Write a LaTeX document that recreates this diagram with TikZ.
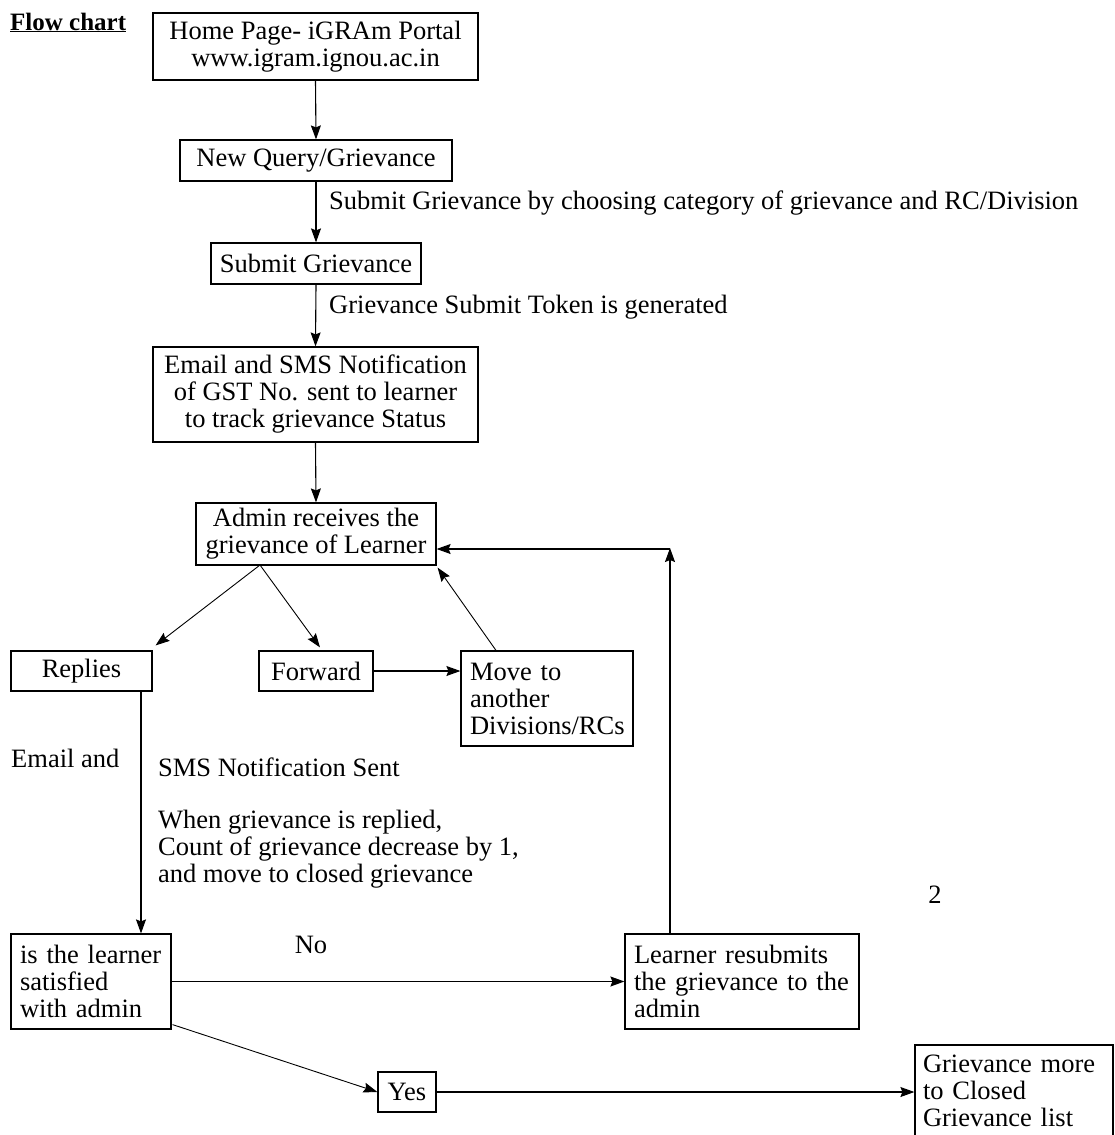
\documentclass[tikz,border=0pt]{standalone}
\usepackage{fontspec}
\setmainfont{Liberation Serif}
\usetikzlibrary{arrows.meta,calc}
\begin{document}
\begin{tikzpicture}[x=1pt,y=-1pt,
  every node/.style={font=\fontsize{26.5}{27}\selectfont},
  box/.style={draw, line width=1.2pt, inner sep=0pt, align=center},
  lbox/.style={draw, line width=1.2pt, inner xsep=9pt, inner ysep=0pt, align=left},
  arr/.style={line width=1.1pt, -{Stealth[length=14pt,width=10pt,inset=2pt]}},
  darr/.style={line width=0.9pt, -{Stealth[length=14pt,width=10pt,inset=2pt]}},
  lab/.style={anchor=west, inner sep=0pt, align=left},
]
\useasboundingbox (0,0) rectangle (1115,1135);
\clip (0,0) rectangle (1115,1135);

% title
\node[inner sep=0pt, anchor=base west, font=\fontsize{25}{27}\selectfont\bfseries] (title) at (10,30) {\underline{Flow chart}};

% boxes
\node[box, minimum width=325pt, minimum height=67pt] (home) at (315.5,46.5) {Home Page- iGRAm Portal\\www.igram.ignou.ac.in};
\node[box, minimum width=272pt, minimum height=41pt] (newq) at (316,160.5) {New Query/Grievance};
\node[box, minimum width=210pt, minimum height=41pt] (subg) at (316,263.5) {Submit Grievance};
\node[box, minimum width=325pt, minimum height=95pt] (email) at (315.5,394.5) {Email and SMS Notification\\of GST No. sent to learner\\to track grievance Status};
\node[box, minimum width=240pt, minimum height=62pt] (admin) at (316,534) {Admin receives the\\grievance of Learner};
\node[box, minimum width=141pt, minimum height=40pt] (replies) at (81.5,671) {Replies};
\node[box, minimum width=114pt, minimum height=40pt] (forward) at (316,671) {Forward};
\node[lbox, text width=154pt, minimum height=95pt] (move) at (547,698.5) {Move to\\another\\Divisions/RCs};
\node[lbox, text width=142pt, minimum height=95pt] (learner) at (91,981.5) {is the learner\\satisfied\\with admin};
\node[lbox, text width=216pt, minimum height=95pt] (resub) at (742,981.5) {Learner resubmits\\the grievance to the\\admin};
\node[box, minimum width=58pt, minimum height=40pt] (yes) at (407,1092) {Yes};
\node[lbox, inner xsep=8pt, text width=182pt, minimum height=92pt] (closed) at (1014,1091) {Grievance more\\to Closed\\Grievance list};

% labels
\node[lab] (lab1) at (329,203) {Submit Grievance by choosing category of grievance and RC/Division};
\node[lab] (lab2) at (329,307) {Grievance Submit Token is generated};
\node[lab] (emailand) at (11,758) {Email and};
\node[lab] (sms) at (158,767) {SMS Notification Sent};
\node[lab, anchor=north west] (when) at (158,810) {When grievance is replied,\\Count of grievance decrease by 1,\\and move to closed grievance};
\node[inner sep=0pt] (no) at (311,945) {No};
\node[inner sep=0pt] (two) at (935,895) {2};

% coordinates
\coordinate (apex) at (260,565);
\coordinate (rl) at (141,691);
\coordinate (corner) at (670,549);

% connectors
\draw[arr] (home.south) -- (newq.north);
\draw[arr] (newq.south) -- (subg.north);
\draw[arr] (subg.south) -- (email.north);
\draw[arr] (email.south) -- (admin.north);
\draw[darr] (apex) -- ([shift={(3,-5)}]replies.north east);
\draw[darr] (apex) -- ([shift={(4,-3)}]forward.north);
\draw[arr] (forward.east) -- (forward.east -| move.west);
\draw[darr] ([xshift=-51pt]move.north) -- ([shift={(1,2)}]admin.south east);
\draw[arr] (rl) -- (rl |- learner.north);
\draw[arr] (learner.east |- resub.west) -- (resub.west);
\draw[darr] ([shift={(1,-5)}]learner.south east) -- (yes.west);
\draw[arr] (yes.east) -- (yes.east -| closed.west);
\draw[arr] (resub.north -| corner) -- ([yshift=1pt]corner);
\draw[arr] (corner) -- (corner -| admin.east);
\end{tikzpicture}
\end{document}
